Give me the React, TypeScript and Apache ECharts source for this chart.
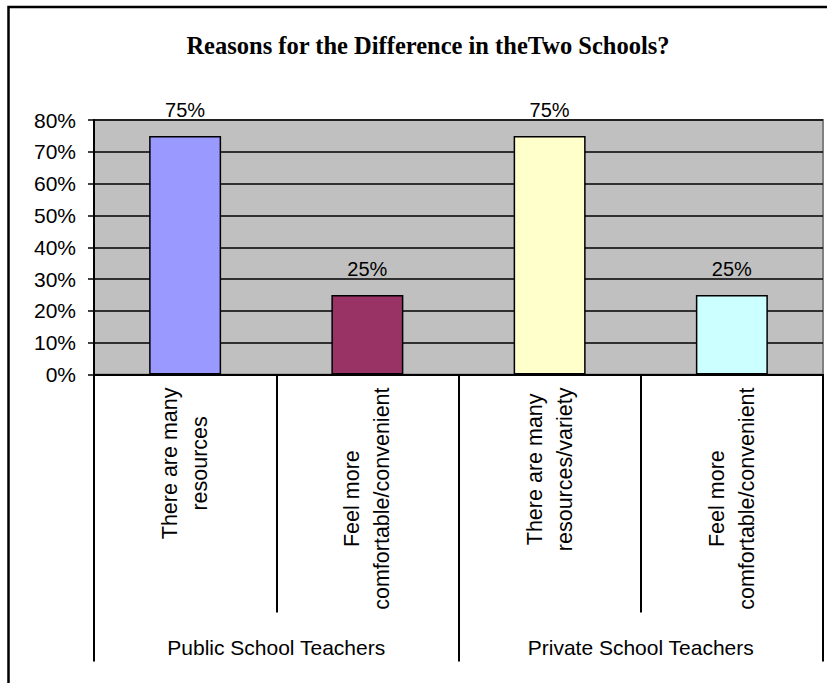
import React, { useEffect, useRef } from "react";
import * as echarts from "echarts";

const titleText = "Reasons for the Difference in theTwo Schools?";
const categories = [
  "There are many\nresources",
  "Feel more\ncomfortable/convenient",
  "There are many\nresources/variety",
  "Feel more\ncomfortable/convenient",
];
const groups = ["Public School Teachers", "Private School Teachers"];
const values = [75, 25, 75, 25];
const barColors = ["#9999FF", "#993366", "#FFFFCC", "#CCFFFF"];
const yMin = 0;
const yMax = 80;
const yStep = 10;

const SANS = "'Liberation Sans', Arial, sans-serif";
const SERIF = "'Liberation Serif', 'Times New Roman', serif";

export default function App() {
  const ref = useRef<HTMLDivElement>(null);
  useEffect(() => {
    document.body.style.margin = "0";
    const chart = echarts.init(ref.current!, null, { renderer: "svg" });
    chart.setOption({
      animation: false,
      backgroundColor: "#ffffff",
      title: {
        text: titleText,
        left: 423,
        top: 28,
        textAlign: "center",
        textStyle: { fontFamily: SERIF, fontWeight: "bold", fontSize: 24.5, color: "#000" },
      },
      graphic: [
        {
          type: "polyline",
          shape: { points: [[8.5, 700], [8.5, 7], [840, 7]] },
          style: { stroke: "#000", lineWidth: 2.5, fill: "none" },
          silent: true,
        },
      ],
      grid: {
        left: 94,
        right: 4,
        top: 120,
        bottom: 308.5,
        show: true,
        backgroundColor: "#C0C0C0",
        borderColor: "#808080",
        borderWidth: 2,
      },
      yAxis: {
        type: "value",
        min: yMin,
        max: yMax,
        interval: yStep,
        axisLine: { show: true, lineStyle: { color: "#000", width: 2 } },
        axisTick: { show: true, length: 6, lineStyle: { color: "#000", width: 1.5 } },
        splitLine: { show: true, lineStyle: { color: "#000", width: 1.5 } },
        axisLabel: {
          formatter: "{value}%",
          margin: 18,
          fontFamily: SANS,
          fontSize: 21,
          color: "#000",
        },
      },
      xAxis: [
        {
          type: "category",
          data: categories,
          position: "bottom",
          axisLine: { show: true, lineStyle: { color: "#000", width: 2 } },
          axisTick: { show: true, length: 238, interval: 0, lineStyle: { color: "#000", width: 2 } },
          splitLine: { show: false },
          axisLabel: {
            interval: 0,
            rotate: 90,
            margin: 13,
            formatter: (v: string) => v.split("\n").map((l) => `{c|${l}}`).join("\n"),
            rich: {
              c: { align: "center", fontFamily: SANS, fontSize: 21.5, lineHeight: 30, color: "#000" },
            },
          },
        },
        {
          type: "category",
          data: groups,
          position: "bottom",
          axisLine: { show: false },
          axisTick: { show: true, length: 287, interval: 0, lineStyle: { color: "#000", width: 2 } },
          splitLine: { show: false },
          axisLabel: {
            interval: 0,
            margin: 262,
            fontFamily: SANS,
            fontSize: 21,
            color: "#000",
          },
        },
      ],
      series: [
        {
          type: "bar",
          xAxisIndex: 0,
          barWidth: "39.5%",
          data: values.map((v, i) => ({
            value: v,
            itemStyle: { color: barColors[i], borderColor: "#000", borderWidth: 1.5 },
          })),
          label: {
            show: true,
            position: "top",
            distance: 16,
            formatter: "{c}%",
            fontFamily: SANS,
            fontSize: 20,
            color: "#000",
          },
        },
      ],
    });
    return () => chart.dispose();
  }, []);
  return <div ref={ref} style={{ width: 827, height: 683 }} />;
}
